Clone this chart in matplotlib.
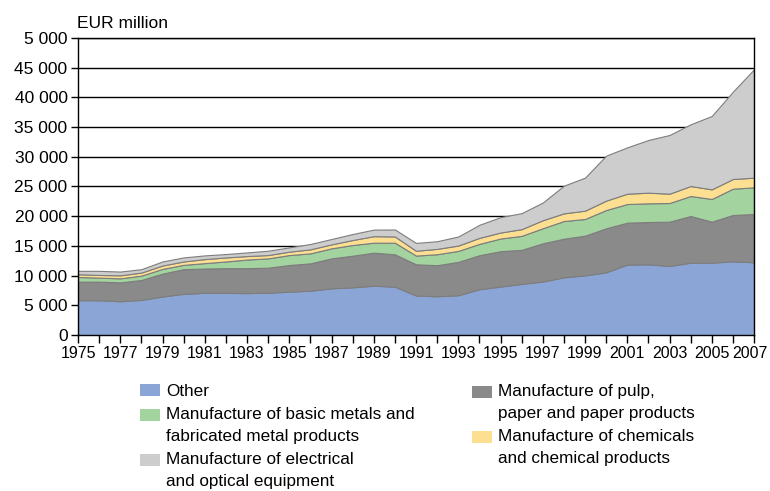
import matplotlib
matplotlib.use("Agg")
import matplotlib.pyplot as plt
from matplotlib.patches import Rectangle
from matplotlib.legend_handler import HandlerPatch
from matplotlib.transforms import ScaledTranslation

plt.rcParams['font.family'] = ['Liberation Sans', 'DejaVu Sans']

years = list(range(1975, 2008))
other = [5850, 5850, 5680, 5910, 6480, 6930, 7100, 7100, 7050, 7120, 7290, 7460, 7850, 8020, 8300, 8130,
         6650, 6520, 6690, 7700, 8150, 8600, 9000, 9710, 10040, 10550, 11850, 11900, 11620, 12170, 12170, 12400, 12240]
pulp = [3130, 3130, 3180, 3350, 3860, 4150, 4090, 4150, 4200, 4210, 4490, 4600, 5050, 5330, 5560, 5450,
        5250, 5230, 5620, 5730, 5960, 5730, 6440, 6500, 6680, 7410, 7060, 7120, 7460, 7860, 6910, 7800, 8130]
metals = [790, 680, 680, 740, 790, 730, 910, 1130, 1450, 1570, 1680, 1680, 1690, 1800, 1680, 1960,
          1470, 1850, 1850, 1910, 2130, 2360, 2530, 2980, 2810, 3080, 3140, 3150, 3140, 3370, 3820, 4430, 4490]
chem = [460, 450, 510, 510, 570, 570, 680, 680, 590, 560, 570, 680, 670, 840, 1100, 1050,
        810, 900, 900, 1010, 1010, 1130, 1350, 1290, 1400, 1580, 1740, 1790, 1570, 1680, 1620, 1630, 1630]
elec = [570, 690, 630, 570, 680, 680, 620, 570, 610, 730, 720, 900, 900, 1010, 1100, 1170,
        1320, 1290, 1520, 2200, 2590, 2690, 2980, 4660, 5560, 7570, 7800, 8870, 9880, 10390, 12350, 14700, 18240]

labels = ["Other",
          "Manufacture of pulp,\npaper and paper products",
          "Manufacture of basic metals and\nfabricated metal products",
          "Manufacture of chemicals\nand chemical products",
          "Manufacture of electrical\nand optical equipment"]
colors = ["#8ba6d6", "#8a8a8a", "#a3d39e", "#fddf92", "#cdcdcd"]

ytick_vals = list(range(0, 50001, 5000))
ytick_labels = ["0", "5 000", "10 000", "15 000", "20 000", "25 000", "30 000",
                "35 000", "40 000", "45 000", "5 000"]

FS = 12.5
FSX = 11.5
FSL = 12.3
fig = plt.figure(figsize=(7.7, 4.91), dpi=100)
ax = fig.add_axes([78 / 770, 1 - 335 / 491, (754 - 78) / 770, (335 - 38) / 491])

polys = ax.stackplot(years, other, pulp, metals, chem, elec, colors=colors,
                     edgecolor="#7d7d7d", linewidth=0.8, labels=labels)

ax.set_xlim(1975, 2007)
ax.set_ylim(0, 50000)
ax.set_axisbelow(True)
ax.yaxis.grid(True, color="black", linewidth=1.0)
ax.xaxis.grid(False)
for s in ax.spines.values():
    s.set_color("black")
    s.set_linewidth(1.0)

ax.set_yticks(ytick_vals)
ax.set_yticklabels(ytick_labels, fontsize=FS)
ax.set_xticks(years)
ax.set_xticklabels([str(y) if (y - 1975) % 2 == 0 else "" for y in years], fontsize=FSX)
ax.tick_params(axis="y", length=5, width=1, pad=2.5, color="black")
ax.tick_params(axis="x", length=6, width=1, pad=2, color="black")
# keep the last year label inside the picture
last = ax.get_xticklabels()[-1]
last.set_transform(last.get_transform() + ScaledTranslation(-4 / 100, 0, fig.dpi_scale_trans))

fig.text(77 / 770, 1 - 28 / 491, "EUR million", fontsize=FS, ha="left", va="baseline")


class TopHandler(HandlerPatch):
    def __init__(self, shift=0.0, **kw):
        super().__init__(**kw)
        self.shift = shift

    def create_artists(self, legend, orig_handle, xdescent, ydescent, width, height, fontsize, trans):
        r = Rectangle((-xdescent, -ydescent + self.shift * fontsize), width, height,
                      facecolor=orig_handle.get_facecolor(), edgecolor="none", transform=trans)
        return [r]


LS = 1.6
hmap = {polys[i]: TopHandler(shift=(0.0 if "\n" not in labels[i] else 0.63)) for i in range(5)}
common = dict(loc="upper left", frameon=False, fontsize=FSL, borderpad=0, borderaxespad=0,
              handlelength=1.17, handleheight=0.7, handletextpad=0.38, labelspacing=0.47,
              handler_map=hmap)

cols = [[0, 2, 4], [1, 3]]
xs = [140 / 770, 472 / 770]
for col, x in zip(cols, xs):
    leg = fig.legend([polys[i] for i in col], [labels[i] for i in col],
                     bbox_to_anchor=(x, 1 - 384 / 491), **common)
    for t in leg.get_texts():
        t.set_linespacing(LS)

fig.savefig("out.png", dpi=100)
